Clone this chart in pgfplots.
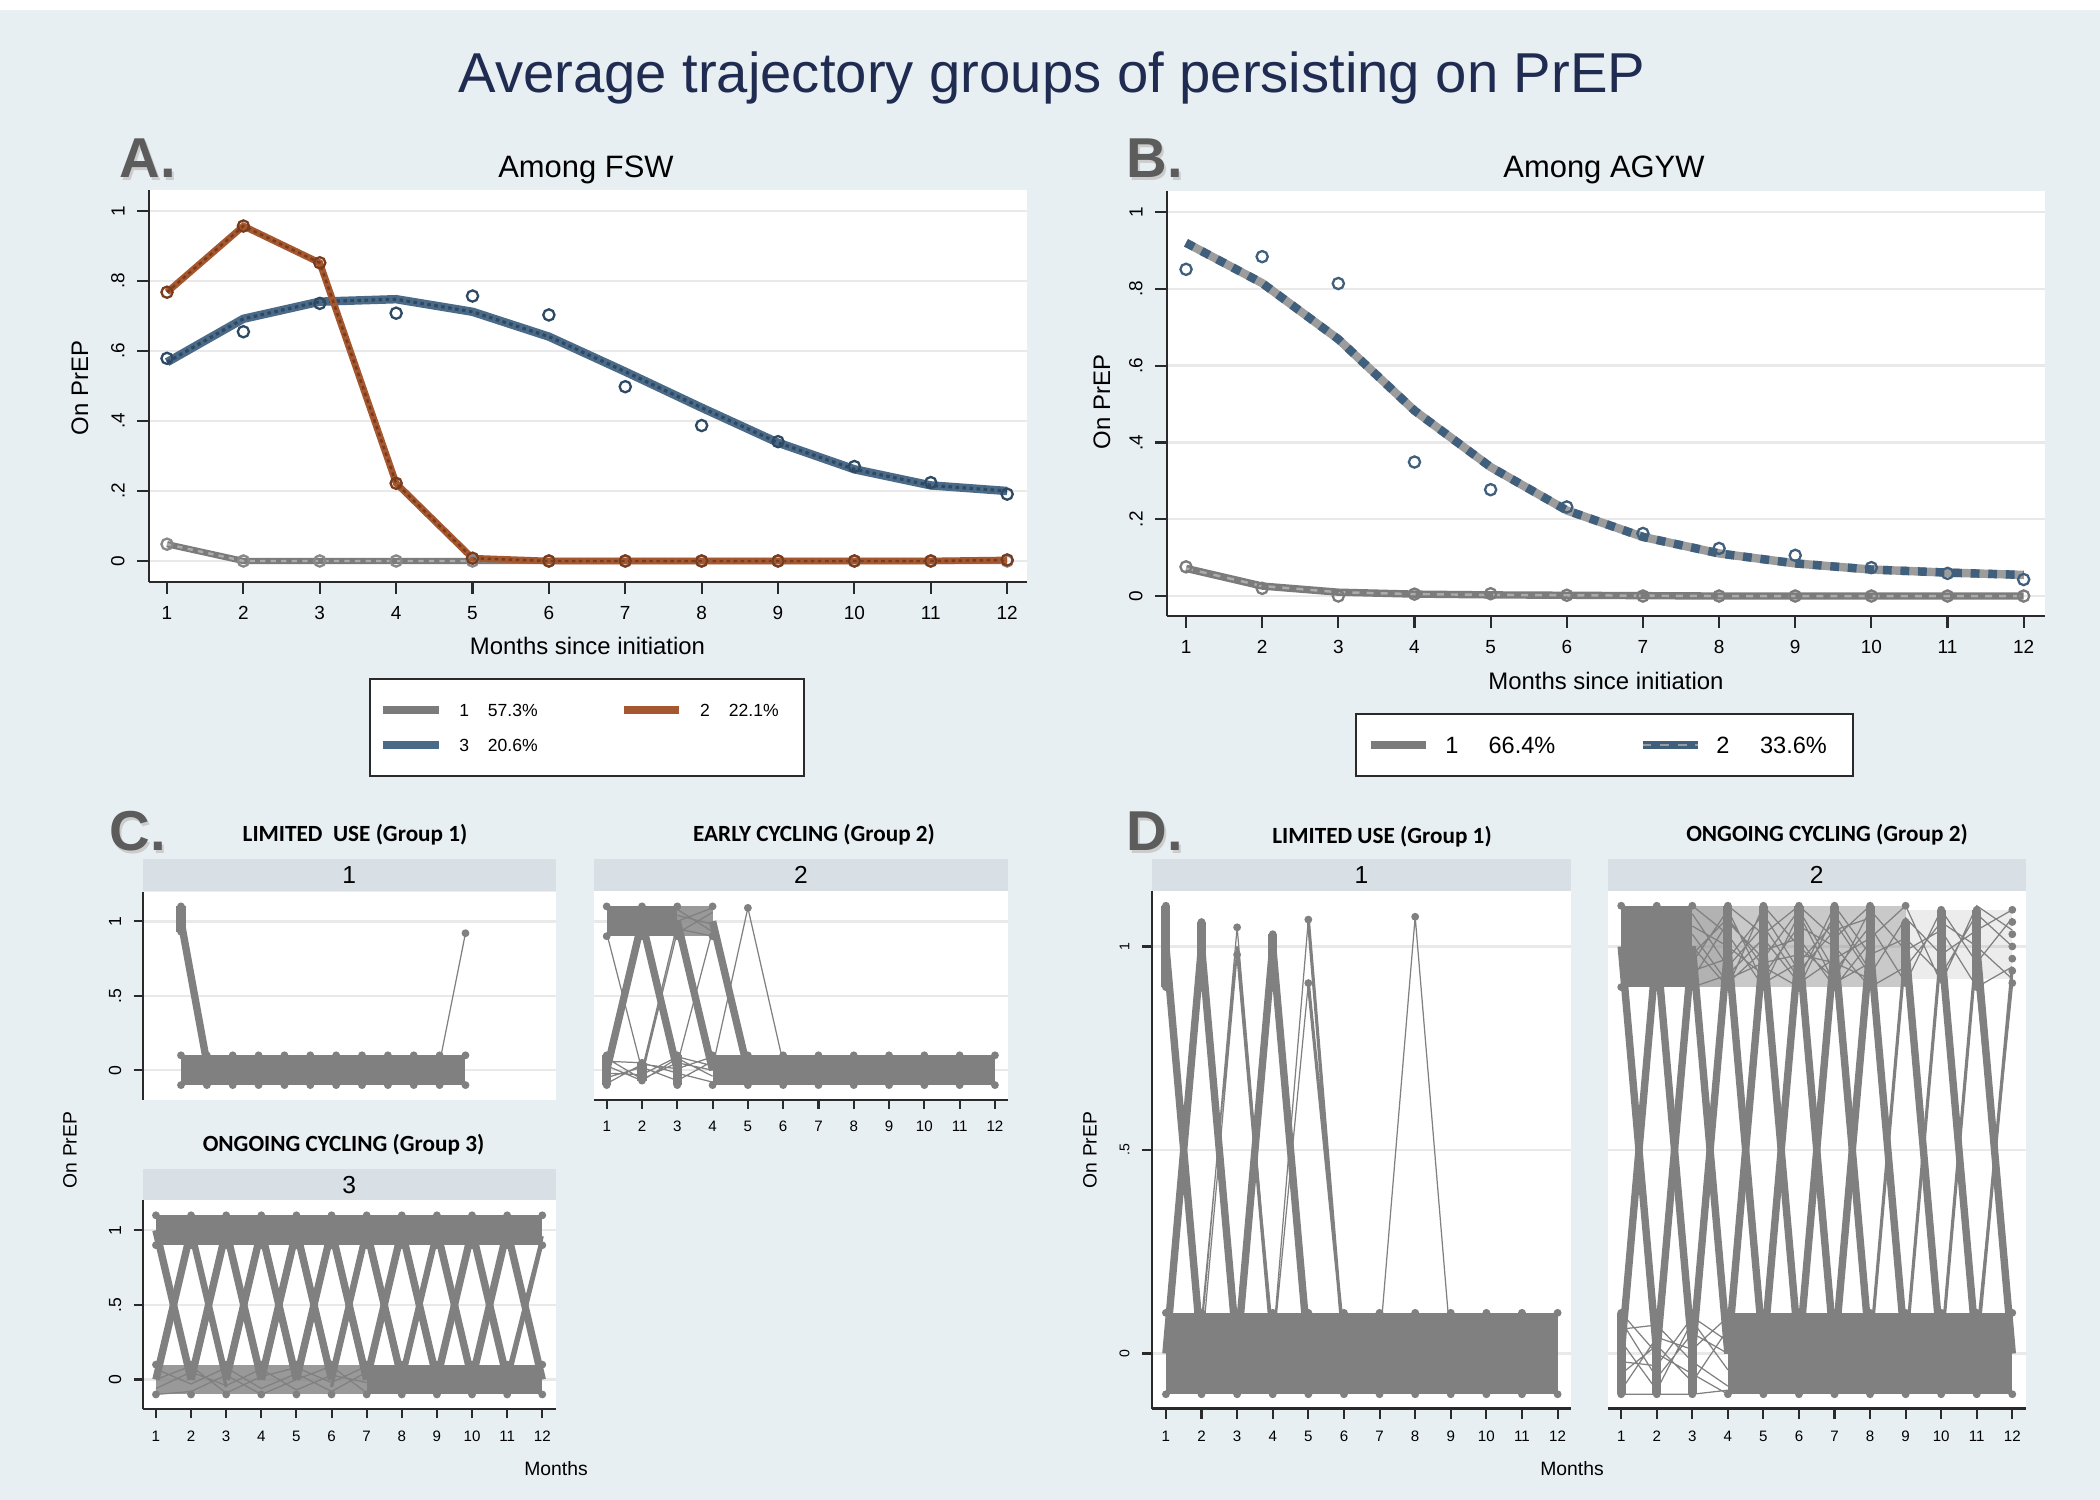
\documentclass[border=0pt]{standalone}
\usepackage{fontspec}
\setmainfont{Liberation Sans}
\newfontfamily\carlito{Carlito}
\usepackage{pgfplots}
\pgfplotsset{compat=1.18}
\definecolor{bg}{HTML}{E8EFF2}
\definecolor{stripcol}{HTML}{D8E0E6}
\definecolor{titlecol}{HTML}{1F2B50}
\definecolor{lettercol}{HTML}{5C5C5C}
\definecolor{axcol}{HTML}{2A2A2A}
\definecolor{gridcol}{HTML}{E9E9E9}
\definecolor{spcol}{HTML}{808080}
\definecolor{gA}{HTML}{7B7B7B}
\definecolor{gAl}{HTML}{ABABAB}
\definecolor{oA}{HTML}{A5582F}
\definecolor{oAd}{HTML}{7A3B1C}
\definecolor{bA}{HTML}{4A6A88}
\definecolor{bAd}{HTML}{2E4963}
\definecolor{bB}{HTML}{3F5F7D}
\definecolor{gB}{HTML}{9C9C9C}
\newcommand{\fs}[1]{\fontsize{#1}{#1}\selectfont}
\pgfplotsset{
  /pgf/number format/assume math mode=true,
  stata/.style={scale only axis, axis background/.style={fill=white},
    axis x line*=bottom, axis y line*=left,
    axis line style={draw=axcol, line width=0.6pt, -},
    tick align=outside, tick style={draw=axcol, line width=0.6pt},
    ymajorgrids, major grid style={draw=gridcol, line width=0.7pt},
    yticklabel style={rotate=90, anchor=south}},
  spfill/.style={fill=spcol, draw=none},
  spk/.style={draw=spcol, line width=2.1pt, unbounded coords=jump, no markers},
  spm/.style={draw=spcol, line width=0.9pt, unbounded coords=jump, no markers},
  spt/.style={draw=spcol, line width=0.35pt, unbounded coords=jump, no markers},
  spc/.style={draw=spcol, line width=2.6pt, unbounded coords=jump, no markers},
  spdot/.style={only marks, mark=*, mark size=0.9pt, color=spcol},
  obs/.style={only marks, mark=o, mark size=1.6pt, mark options={line width=0.65pt}},
}
\begin{document}
\begin{tikzpicture}[x=1cm,y=1cm]
\useasboundingbox (0,0) rectangle (21,15);
\fill[bg] (0,0) rectangle (21,15);
\fill[white] (0,14.9) rectangle (21,15);

% ---------- title and panel letters
\node[anchor=base, font={\fs{16}}, text=titlecol] at (10.52,14.07) {Average trajectory groups of persisting on PrEP};
\foreach \L/\X/\Y in {A./1.07/13.22, B./11.14/13.22, C./0.97/6.49, D./11.14/6.49}{
  \node[anchor=base west, font={\fs{16}\bfseries}, text=black!20] at (\X+0.025,\Y-0.025) {\L};
  \node[anchor=base west, font={\fs{16}\bfseries}, text=lettercol] at (\X,\Y) {\L};
}

% ---------- Panel A
\begin{axis}[stata, at={(1.49cm,9.18cm)}, anchor=south west, width=8.78cm, height=3.92cm,
  xmin=0.764, xmax=12.26, ymin=-0.06, ymax=1.06,
  xtick={1,2,...,12}, ytick={0,0.2,0.4,0.6,0.8,1}, yticklabels={0,.2,.4,.6,.8,1},
  tick label style={font={\fs{5.4}}}, major tick length=0.12cm]
\addplot[gA, line width=1.8pt, no markers] coordinates {(1,0.048)(2,0)(3,0)(4,0)(5,0)(6,0)(7,0)(8,0)(9,0)(10,0)(11,0)(12,0)};
\addplot[gAl, line width=0.7pt, dash pattern=on 1.5pt off 1.5pt, no markers] coordinates {(1,0.048)(2,0)(3,0)(4,0)(5,0)(6,0)(7,0)(8,0)(9,0)(10,0)(11,0)(12,0)};
\addplot[obs, color=gA!90] coordinates {(1,0.048)(2,0)(3,0)(4,0)(5,0)(6,0)(7,0)(8,0)(9,0)(10,0)(11,0)(12,0)};
\addplot[bA, line width=2.4pt, no markers] coordinates {(1,0.568)(2,0.692)(3,0.741)(4,0.748)(5,0.712)(6,0.641)(7,0.541)(8,0.438)(9,0.338)(10,0.262)(11,0.216)(12,0.2)};
\addplot[bAd, line width=0.9pt, dash pattern=on 1pt off 1pt, no markers] coordinates {(1,0.568)(2,0.692)(3,0.741)(4,0.748)(5,0.712)(6,0.641)(7,0.541)(8,0.438)(9,0.338)(10,0.262)(11,0.216)(12,0.2)};
\addplot[obs, color=bAd] coordinates {(1,0.579)(2,0.655)(3,0.736)(4,0.708)(5,0.757)(6,0.703)(7,0.498)(8,0.387)(9,0.341)(10,0.27)(11,0.224)(12,0.191)};
\addplot[oA, line width=1.9pt, no markers] coordinates {(1,0.768)(2,0.957)(3,0.852)(4,0.222)(5,0.008)(6,0)(7,0)(8,0)(9,0)(10,0)(11,0)(12,0.003)};
\addplot[oAd, line width=0.7pt, dash pattern=on 1pt off 1pt, no markers] coordinates {(1,0.768)(2,0.957)(3,0.852)(4,0.222)(5,0.008)(6,0)(7,0)(8,0)(9,0)(10,0)(11,0)(12,0.003)};
\addplot[obs, color=oAd] coordinates {(1,0.768)(2,0.957)(3,0.852)(4,0.222)(5,0.008)(6,0)(7,0)(8,0)(9,0)(10,0)(11,0)(12,0.003)};
\end{axis}
\node[anchor=base, font={\fs{8.8}}] at (5.86,13.22) {Among FSW};
\node[anchor=base, font={\fs{6.8}}] at (5.875,8.45) {Months since initiation};
\node[rotate=90, font={\fs{6.8}}] at (0.80,11.12) {On PrEP};
% legend A
\draw[draw=axcol, line width=0.6pt, fill=white] (3.70,7.24) rectangle (8.04,8.207);
\draw[gA, line width=2pt] (3.833,7.90) -- (4.39,7.90);
\draw[oA, line width=2pt] (6.243,7.90) -- (6.793,7.90);
\draw[bA, line width=2pt] (3.833,7.55) -- (4.39,7.55);
\node[font={\fs{5}}] at (4.643,7.90) {1};
\node[font={\fs{5}}] at (5.128,7.90) {57.3\%};
\node[font={\fs{5}}] at (7.05,7.90) {2};
\node[font={\fs{5}}] at (7.538,7.90) {22.1\%};
\node[font={\fs{5}}] at (4.643,7.55) {3};
\node[font={\fs{5}}] at (5.128,7.55) {20.6\%};

% ---------- Panel B
\begin{axis}[stata, at={(11.67cm,8.84cm)}, anchor=south west, width=8.78cm, height=4.25cm,
  xmin=0.75, xmax=12.28, ymin=-0.052, ymax=1.055,
  xtick={1,2,...,12}, ytick={0,0.2,0.4,0.6,0.8,1}, yticklabels={0,.2,.4,.6,.8,1},
  tick label style={font={\fs{5.4}}}, major tick length=0.12cm]
\addplot[gA, line width=2.1pt, no markers] coordinates {(1,0.072)(2,0.026)(3,0.01)(4,0.005)(5,0.003)(6,0.002)(7,0.001)(8,0)(9,0)(10,0)(11,0)(12,0)};
\addplot[gAl, line width=0.7pt, dash pattern=on 2pt off 2pt, no markers] coordinates {(1,0.072)(2,0.026)(3,0.01)(4,0.005)(5,0.003)(6,0.002)(7,0.001)(8,0)(9,0)(10,0)(11,0)(12,0)};
\addplot[obs, color=gA] coordinates {(1,0.076)(2,0.02)(3,0)(4,0.005)(5,0.006)(6,0.002)(7,0)(8,0)(9,0)(10,0)(11,0)(12,0)};
\addplot[gB, line width=2.4pt, no markers] coordinates {(1,0.92)(2,0.815)(3,0.669)(4,0.483)(5,0.336)(6,0.223)(7,0.154)(8,0.111)(9,0.085)(10,0.069)(11,0.061)(12,0.055)};
\addplot[bB, line width=2.4pt, dash pattern=on 2.5pt off 2.5pt, no markers] coordinates {(1,0.92)(2,0.815)(3,0.669)(4,0.483)(5,0.336)(6,0.223)(7,0.154)(8,0.111)(9,0.085)(10,0.069)(11,0.061)(12,0.055)};
\addplot[obs, color=bB] coordinates {(1,0.851)(2,0.884)(3,0.814)(4,0.349)(5,0.277)(6,0.232)(7,0.163)(8,0.124)(9,0.106)(10,0.074)(11,0.059)(12,0.043)};
\end{axis}
\node[anchor=base, font={\fs{8.8}}] at (16.04,13.22) {Among AGYW};
\node[anchor=base, font={\fs{6.8}}] at (16.06,8.10) {Months since initiation};
\node[rotate=90, font={\fs{6.8}}] at (11.02,10.98) {On PrEP};
% legend B
\draw[draw=axcol, line width=0.6pt, fill=white] (13.56,7.24) rectangle (18.53,7.86);
\draw[gA, line width=2.3pt] (13.714,7.55) -- (14.263,7.55);
\draw[bB, line width=2.3pt] (16.426,7.55) -- (16.982,7.55);
\draw[gB, line width=0.8pt, dash pattern=on 2.5pt off 2.5pt] (16.426,7.55) -- (16.982,7.55);
\node[font={\fs{6.7}}] at (14.52,7.55) {1};
\node[font={\fs{6.7}}] at (15.22,7.55) {66.4\%};
\node[font={\fs{6.7}}] at (17.23,7.55) {2};
\node[font={\fs{6.7}}] at (17.935,7.55) {33.6\%};

% ---------- Panel C strips and titles
\fill[stripcol] (1.426,6.085) rectangle (5.558,6.41);
\fill[stripcol] (5.94,6.085) rectangle (10.08,6.41);
\fill[stripcol] (1.426,2.996) rectangle (5.56,3.312);
\node[font={\fs{7}}] at (3.492,6.2475) {1};
\node[font={\fs{7}}] at (8.01,6.2475) {2};
\node[font={\fs{7}}] at (3.493,3.154) {3};
\node[anchor=base, font={\carlito\bfseries\fs{6.6}}] at (3.55,6.58) {LIMITED~ USE (Group 1)};
\node[anchor=base, font={\carlito\bfseries\fs{6.6}}] at (8.14,6.58) {EARLY CYCLING (Group 2)};
\node[anchor=base, font={\carlito\bfseries\fs{6.6}}] at (3.435,3.48) {ONGOING CYCLING (Group 3)};
\node[rotate=90, font={\fs{5.5}}] at (0.70,3.50) {On PrEP};
\node[font={\fs{5.5}}] at (5.56,0.31) {Months};

% C1
\begin{axis}[stata, at={(1.426cm,4.0cm)}, anchor=south west, width=4.134cm, height=2.085cm,
  xmin=-0.485, xmax=15.5, ymin=-0.2, ymax=1.2,
  xmajorticks=false, x axis line style={draw=none},
  ytick={0,0.5,1}, yticklabels={0,.5,1}, tick label style={font={\fs{5}}}, major tick length=0.09cm]
\addplot[spfill] coordinates {(1,-0.1)(12,-0.1)(12,0.1)(1,0.1)} -- cycle;
\addplot[spk] coordinates {(1,1.0)(2,0.05)};
\addplot[spc] coordinates {(1,0.93)(1,1.1)};
\addplot[spt] coordinates {(11,0.05)(12,0.92)};
\addplot[spdot] coordinates {(1,0.1)(2,0.1)(3,0.1)(4,0.1)(5,0.1)(6,0.1)(7,0.1)(8,0.1)(9,0.1)(10,0.1)(11,0.1)(12,0.1)(1,-0.1)(2,-0.1)(3,-0.1)(4,-0.1)(5,-0.1)(6,-0.1)(7,-0.1)(8,-0.1)(9,-0.1)(10,-0.1)(11,-0.1)(12,-0.1)(1,1.1)(1,0.93)(12,0.92)};
\end{axis}

% C2
\begin{axis}[stata, at={(5.94cm,4.0cm)}, anchor=south west, width=4.14cm, height=2.085cm,
  xmin=0.64, xmax=12.37, ymin=-0.2, ymax=1.2,
  ymajorticks=false, y axis line style={draw=none},
  xtick={1,2,...,12}, ytick={0,0.5,1}, tick label style={font={\fs{4.3}}}, major tick length=0.09cm]
\addplot[spfill] coordinates {(1,0.9)(3,0.9)(3,1.1)(1,1.1)} -- cycle;
\addplot[spfill, fill opacity=0.8] coordinates {(3,0.9)(4,0.9)(4,1.1)(3,1.1)} -- cycle;
\addplot[spfill] coordinates {(4,-0.1)(12,-0.1)(12,0.1)(4,0.1)} -- cycle;
\addplot[spt] coordinates {(3,1.08)(4,0.93) (4,nan) (3,0.92)(4,1.06) (4,nan) (3,1.0)(4,1.09) (4,nan) (3,0.95)(4,0.9) (4,nan) (3,1.04)(4,0.98)};
\addplot[spt] coordinates {(1,0.08)(2,-0.06)(3,0.05)(4,0.0) (4,nan) (1,-0.05)(2,0.02)(3,-0.07)(4,0.06) (4,nan) (1,0.03)(2,-0.07)(3,0.08)(4,-0.04) (4,nan) (1,-0.09)(2,0.04)(3,0.01)(4,0.09) (4,nan) (1,0.06)(2,0.05)(3,-0.02)(4,-0.08) (4,nan) (1,-0.02)(2,-0.03)(3,0.09)(4,0.03)};
\addplot[spt] coordinates {(1,0.92)(2,0.0) (2,nan) (2,-0.04)(3,0.93) (3,nan) (2,0.0)(3,0.98) (3,nan) (3,0.04)(4,0.94) (4,nan) (4,0.02)(5,1.09)(6,0.05)};
\addplot[spk] coordinates {(1,0)(2,1) (2,nan) (2,1)(3,0) (3,nan) (3,1)(4,0) (4,nan) (4,1)(5,0)};
\addplot[spc] coordinates {(1,-0.1)(1,0.1) (1,nan) (2,-0.07)(2,0.05) (2,nan) (3,-0.1)(3,0.1)};
\addplot[spdot] coordinates {(4,0.1)(5,0.1)(6,0.1)(7,0.1)(8,0.1)(9,0.1)(10,0.1)(11,0.1)(12,0.1)(4,-0.1)(5,-0.1)(6,-0.1)(7,-0.1)(8,-0.1)(9,-0.1)(10,-0.1)(11,-0.1)(12,-0.1)(1,0.1)(1,-0.1)(2,-0.07)(2,0.05)(3,0.1)(3,-0.1)(1,1.1)(1,0.9)(2,1.1)(2,0.9)(3,1.1)(3,0.9)(4,1.1)(4,0.9)(5,1.09)};
\end{axis}

% C3
\begin{axis}[stata, at={(1.426cm,0.906cm)}, anchor=south west, width=4.134cm, height=2.09cm,
  xmin=0.62, xmax=12.39, ymin=-0.2, ymax=1.2,
  xtick={1,2,...,12}, ytick={0,0.5,1}, yticklabels={0,.5,1}, xticklabel style={font={\fs{4.3}}}, yticklabel style={font={\fs{5}}}, major tick length=0.09cm]
\addplot[spfill] coordinates {(1,0.9)(12,0.9)(12,1.1)(1,1.1)} -- cycle;
\addplot[spfill, fill opacity=0.8] coordinates {(1,-0.1)(7,-0.1)(7,0.1)(1,0.1)} -- cycle;
\addplot[spfill] coordinates {(7,-0.1)(12,-0.1)(12,0.1)(7,0.1)} -- cycle;
\addplot[spt] coordinates {(1,0.07)(2,-0.03)(3,0.08)(4,-0.06)(5,0.04)(6,-0.08)(7,0.05) (7,nan) (1,-0.06)(2,0.05)(3,-0.04)(4,0.07)(5,-0.07)(6,0.03)(7,-0.02) (7,nan) (1,0.0)(2,0.09)(3,-0.09)(4,0.02)(5,0.08)(6,-0.02)(7,0.09) (7,nan) (1,-0.1)(2,-0.08)(3,0.03)(4,-0.1)(5,0.0)(6,0.09)(7,-0.09)};
\addplot[spk] coordinates {(1,1)(2,0) (2,nan) (3,1)(4,0) (4,nan) (4,1)(5,0) (5,nan) (5,1)(6,0) (6,nan) (6,1)(7,0) (7,nan) (7,1)(8,0) (8,nan) (8,1)(9,0) (9,nan) (9,1)(10,0) (10,nan) (10,1)(11,0) (11,nan) (11,1)(12,0)};
\addplot[spk] coordinates {(1,0)(2,1) (2,nan) (2,0)(3,1) (3,nan) (3,0)(4,1) (4,nan) (4,0)(5,1) (5,nan) (5,0)(6,1) (6,nan) (7,0)(8,1) (8,nan) (9,0)(10,1) (10,nan) (10,0)(11,1)};
\addplot[spm] coordinates {(2,1.05)(3,0.05) (3,nan) (2,0.95)(3,-0.05) (3,nan) (6,0.05)(7,1.05) (7,nan) (6,-0.05)(7,0.95) (7,nan) (8,0.05)(9,1.04) (9,nan) (8,-0.04)(9,0.95) (9,nan) (11,0.03)(12,0.96) (12,nan) (11,-0.04)(12,0.92)};
\addplot[spdot] coordinates {(1,0.1)(2,0.1)(3,0.1)(4,0.1)(5,0.1)(6,0.1)(7,0.1)(8,0.1)(9,0.1)(10,0.1)(11,0.1)(12,0.1)(1,-0.1)(2,-0.1)(3,-0.1)(4,-0.1)(5,-0.1)(6,-0.1)(7,-0.1)(8,-0.1)(9,-0.1)(10,-0.1)(11,-0.1)(12,-0.1)(1,1.1)(2,1.1)(3,1.1)(4,1.1)(5,1.1)(6,1.1)(7,1.1)(8,1.1)(9,1.1)(10,1.1)(11,1.1)(12,1.1)(1,0.9)(2,0.9)(3,0.9)(4,0.9)(5,0.9)(6,0.9)(7,0.9)(8,0.9)(9,0.9)(10,0.9)(11,0.9)(12,0.9)};
\end{axis}

% ---------- Panel D strips and titles
\fill[stripcol] (11.518,6.085) rectangle (15.71,6.41);
\fill[stripcol] (16.078,6.085) rectangle (20.257,6.41);
\node[font={\fs{7}}] at (13.614,6.2475) {1};
\node[font={\fs{7}}] at (18.168,6.2475) {2};
\node[anchor=base, font={\carlito\bfseries\fs{6.6}}] at (13.82,6.56) {LIMITED USE (Group 1)};
\node[anchor=base, font={\carlito\bfseries\fs{6.6}}] at (18.27,6.58) {ONGOING CYCLING (Group 2)};
\node[rotate=90, font={\fs{5.5}}] at (10.90,3.50) {On PrEP};
\node[font={\fs{5.5}}] at (15.72,0.31) {Months};

% D1
\begin{axis}[stata, at={(11.518cm,0.915cm)}, anchor=south west, width=4.192cm, height=5.17cm,
  xmin=0.604, xmax=12.376, ymin=-0.135, ymax=1.135,
  xtick={1,2,...,12}, ytick={0,0.5,1}, yticklabels={0,.5,1}, xticklabel style={font={\fs{4.3}}}, yticklabel style={font={\fs{4}}}, major tick length=0.1cm]
\addplot[spfill] coordinates {(1,-0.1)(12,-0.1)(12,0.1)(1,0.1)} -- cycle;
\addplot[spt] coordinates {(2,0.05)(3,1.047)(4,0.02) (4,nan) (2,0.0)(3,0.98)(4,0.05) (4,nan) (4,0.02)(5,1.066) (5,nan) (4,0.0)(5,0.91) (5,nan) (7,0.02)(8,1.073)(9,0.02) (9,nan) (2,0.08)(3,1.0)};
\addplot[spk] coordinates {(1,1)(2,0) (2,nan) (1,0)(2,1) (2,nan) (2,1)(3,0) (3,nan) (3,0)(4,1) (4,nan) (4,1)(5,0)};
\addplot[spm] coordinates {(5,1.066)(6,0.0) (6,nan) (5,0.91)(6,0.03) (6,nan) (3,1.0)(4,0.0)};
\addplot[spc] coordinates {(1,0.9)(1,1.1) (1,nan) (2,0.93)(2,1.06) (2,nan) (4,0.91)(4,1.03)};
\addplot[spdot] coordinates {(1,0.1)(2,0.1)(3,0.1)(4,0.1)(5,0.1)(6,0.1)(7,0.1)(8,0.1)(9,0.1)(10,0.1)(11,0.1)(12,0.1)(1,-0.1)(2,-0.1)(3,-0.1)(4,-0.1)(5,-0.1)(6,-0.1)(7,-0.1)(8,-0.1)(9,-0.1)(10,-0.1)(11,-0.1)(12,-0.1)(1,1.1)(1,0.9)(2,1.06)(2,0.93)(3,1.047)(3,0.98)(4,1.03)(4,0.95)(4,0.91)(5,1.066)(5,0.91)(8,1.073)};
\end{axis}

% D2
\begin{axis}[stata, at={(16.078cm,0.915cm)}, anchor=south west, width=4.179cm, height=5.17cm,
  xmin=0.623, xmax=12.377, ymin=-0.135, ymax=1.135,
  ymajorticks=false, y axis line style={draw=none},
  xtick={1,2,...,12}, ytick={0,0.5,1}, xticklabel style={font={\fs{4.3}}}, major tick length=0.1cm]
\addplot[spfill] coordinates {(1,0.9)(3,0.9)(3,1.1)(1,1.1)} -- cycle;
\addplot[spfill, fill opacity=0.6] coordinates {(3,0.9)(4,0.9)(4,1.1)(3,1.1)} -- cycle;
\addplot[spfill, fill opacity=0.42] coordinates {(4,0.9)(9,0.9)(9,1.1)(4,1.1)} -- cycle;
\addplot[spfill, fill opacity=0.15] coordinates {(9,0.92)(12,0.92)(12,1.09)(9,1.09)} -- cycle;
\addplot[spfill] coordinates {(4,-0.1)(12,-0.1)(12,0.1)(4,0.1)} -- cycle;
\addplot[spt] coordinates {(3,1.08)(4,0.95)(5,1.05)(6,0.92)(7,1.1)(8,0.98)(9,1.02)(10,0.93)(11,1.08)(12,1.0) (12,nan)
 (3,0.92)(4,1.06)(5,0.97)(6,1.09)(7,0.94)(8,1.05)(9,0.91)(10,1.09)(11,0.96)(12,1.07) (12,nan)
 (3,1.0)(4,0.9)(5,1.1)(6,1.0)(7,0.92)(8,1.09)(9,0.99)(10,1.04)(11,0.9)(12,0.95) (12,nan)
 (3,0.96)(4,1.09)(5,0.91)(6,0.96)(7,1.06)(8,0.93)(9,1.07)(10,0.98)(11,1.04)(12,1.09) (12,nan)
 (3,1.05)(4,1.0)(5,0.93)(6,1.05)(7,1.0)(8,0.9)(9,0.95)(10,1.06)(11,1.0)(12,0.92) (12,nan)
 (3,0.9)(4,0.93)(5,1.02)(6,0.91)(7,0.97)(8,1.02)(9,1.1)(10,0.91)(11,1.1)(12,1.04) (12,nan)
 (3,1.1)(4,1.03)(5,0.9)(6,1.08)(7,0.91)(8,0.96) (8,nan)
 (3,0.94)(4,0.97)(5,1.08)(6,0.94)(7,1.04)(8,1.07) (8,nan)
 (3,1.03)(4,0.91)(5,0.99)(6,1.02)(7,0.9)(8,1.01) (8,nan)
 (3,0.98)(4,1.07)(5,0.95)(6,0.9)(7,1.08)(8,0.94) (8,nan)
 (4,1.1)(5,1.03)(6,1.1)(7,1.02)(8,1.1) (8,nan)
 (4,0.92)(5,0.96)(6,0.98)(7,0.96)(8,0.92)};
\addplot[spt] coordinates {(1,0.08)(2,-0.06)(3,0.05)(4,0.0) (4,nan) (1,-0.05)(2,0.02)(3,-0.07)(4,0.06) (4,nan) (1,0.03)(2,-0.09)(3,0.08)(4,-0.04) (4,nan) (1,-0.09)(2,0.04)(3,0.01)(4,0.09) (4,nan) (1,0.06)(2,0.07)(3,-0.02)(4,-0.08) (4,nan) (1,-0.02)(2,-0.03)(3,0.09)(4,0.03) (4,nan) (1,0.1)(2,0.0)(3,-0.05)(4,-0.1) (4,nan) (1,-0.1)(2,-0.1)(3,-0.1)(4,-0.09)};
\addplot[spk] coordinates {(1,1)(2,0) (2,nan) (2,1)(3,0) (3,nan) (3,1)(4,0) (4,nan) (4,1)(5,0) (5,nan) (5,1)(6,0) (6,nan) (6,1)(7,0) (7,nan) (7,1)(8,0) (8,nan) (8,1)(9,0) (9,nan) (9,1)(10,0) (10,nan) (10,1)(11,0) (11,nan) (11,1)(12,0)};
\addplot[spk] coordinates {(1,0)(2,1) (2,nan) (2,0)(3,1) (3,nan) (3,0)(4,1) (4,nan) (4,0)(5,1) (5,nan) (5,0)(6,1) (6,nan) (6,0)(7,1) (7,nan) (7,0)(8,1)};
\addplot[spm] coordinates {(8,0)(9,1) (9,nan) (9,0)(10,1) (10,nan) (10,0)(11,1) (11,nan) (11,0)(12,0.95)};
\addplot[spt] coordinates {(11,0.05)(12,0.9) (12,nan) (11,0.9)(12,0.02) (12,nan) (10,0.95)(11,0.05)};
\addplot[spc] coordinates {(1,-0.1)(1,0.1) (1,nan) (2,-0.1)(2,0.1) (2,nan) (3,-0.1)(3,0.1) (3,nan) (4,0.9)(4,1.1) (4,nan) (5,0.9)(5,1.1) (5,nan) (6,0.9)(6,1.1) (6,nan) (7,0.9)(7,1.1) (7,nan) (8,0.9)(8,1.1) (8,nan) (9,0.91)(9,1.06) (9,nan) (10,0.92)(10,1.09) (10,nan) (11,0.9)(11,1.09)};
\addplot[spdot] coordinates {(4,0.1)(5,0.1)(6,0.1)(7,0.1)(8,0.1)(9,0.1)(10,0.1)(11,0.1)(12,0.1)(4,-0.1)(5,-0.1)(6,-0.1)(7,-0.1)(8,-0.1)(9,-0.1)(10,-0.1)(11,-0.1)(12,-0.1)(1,0.1)(1,-0.1)(2,0.1)(2,-0.1)(3,0.1)(3,-0.1)(1,1.1)(1,0.9)(2,1.1)(2,0.9)(3,1.1)(3,0.9)(4,1.1)(4,0.9)(5,1.1)(5,0.9)(6,1.1)(6,0.9)(7,1.1)(7,0.9)(8,1.1)(8,0.9)(9,1.1)(9,1.06)(9,0.91)(10,1.09)(10,0.92)(11,1.09)(11,0.9)(12,1.09)(12,1.06)(12,1.03)(12,1.0)(12,0.97)(12,0.94)(12,0.91)};
\end{axis}
\end{tikzpicture}
\end{document}
